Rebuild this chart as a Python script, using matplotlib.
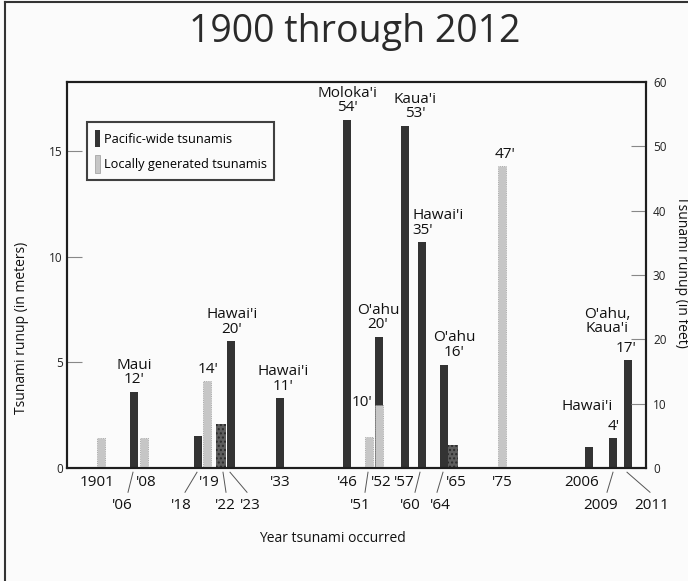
import matplotlib
matplotlib.use('Agg')
import matplotlib.pyplot as plt
from matplotlib.patches import Patch
from matplotlib.lines import Line2D

plt.rcParams['font.family'] = ['Open Sans', 'DejaVu Sans']

# ---------------- data ----------------
pacific_years = [1906, 1918, 1922, 1923, 1933, 1946, 1952, 1957, 1960, 1964, 1965, 2006, 2009, 2011]
pacific_m = [3.6, 1.5, 2.1, 6.0, 3.3, 16.5, 6.2, 16.2, 10.7, 4.9, 1.1, 1.0, 1.4, 5.1]
textured_years = [1922, 1965]
local_years = [1901, 1908, 1919, 1951, 1952, 1975]
local_m = [1.4, 1.4, 4.1, 1.45, 3.0, 14.3]

meter_ticks = [0, 5, 10, 15]
feet_ticks = [0, 10, 20, 30, 40, 50, 60]

# bar labels: (year, text)
bar_labels = [
    (1906, "Maui\n12'"), (1919, "14'"), (1923, "Hawai'i\n20'"), (1933, "Hawai'i\n11'"),
    (1946, "Moloka'i\n54'"), (1952, "O'ahu\n20'"), (1957, "Kaua'i\n53'"),
    (1960, "Hawai'i\n35'"), (1964, "O'ahu\n16'"), (1975, "47'"), (2009, "4'"),
    (2011, "17'"),
]

row1_labels = ["1901", "'08", "'19", "'33", "'46", "'52", "'57", "'65", "'75", "2006"]
row2_labels = ["'06", "'18", "'22", "'23", "'51", "'60", "'64", "2009", "2011"]

# ---------------- layout (pixel offsets from axis left) ----------------
slot = {1901: 34, 1906: 67, 1908: 77, 1918: 131, 1919: 140, 1922: 154, 1923: 164,
        1933: 213, 1946: 280, 1951: 302, 1952: 312, 1957: 338, 1960: 355,
        1964: 377, 1965: 386, 1975: 435, 2006: 522, 2009: 546, 2011: 561}
row1_x = [30, 79, 142, 213, 280, 314, 337, 389, 435, 515]
row2_x = [55, 114, 158, 183, 293, 343, 373, 534, 585]
# leader lines for row 2 labels: (bar x, end x)
leaders = [(66, 61), (130, 118), (156, 159), (163, 180), (301, 298), (353, 348),
           (376, 370), (546, 540), (560, 583)]
label_pos = {1906: (67, 'center'), 1919: (141, 'center'), 1923: (165, 'center'),
             1933: (216, 'center'), 1946: (280, 'center'), 1952: (311, 'center'),
             1957: (348, 'center'), 1960: (345, 'left'), 1964: (387, 'center'),
             1975: (438, 'center'), 2009: (547, 'center'), 2011: (559, 'center')}

W, H = 688, 581
bg = '#fbfbfb'
fig = plt.figure(figsize=(W / 100, H / 100), dpi=100)
fig.patch.set_facecolor(bg)
ax = fig.add_axes([67 / W, 1 - 468 / H, (646 - 67) / W, (468 - 82) / H])
ax.set_facecolor(bg)

dark = '#333333'
light = '#c6c6c6'
mid = '#5e5e5e'
bw = 8

for y, h in zip(pacific_years, pacific_m):
    if y in textured_years:
        ax.bar(slot[y], h, width=bw + 2, color=mid, edgecolor='#2a2a2a', hatch='....',
               linewidth=0, zorder=2)
    else:
        ax.bar(slot[y], h, width=bw, color=dark, linewidth=0, zorder=2)
for y, h in zip(local_years, local_m):
    ax.bar(slot[y], h, width=bw, color=light, edgecolor='#9a9a9a', linewidth=0.6,
           linestyle=':', zorder=3)

ft = 0.3048
ax.set_xlim(0, 579)
ax.set_ylim(0, 60 * ft)
ax.set_xticks([])
ax.set_yticks(meter_ticks)
ax.set_yticklabels([str(t) for t in meter_ticks], fontsize=8.5, color='#222')
ax.tick_params(axis='y', direction='in', length=11, width=0.8, color='#888', pad=3)
for s in ax.spines.values():
    s.set_linewidth(1.5)
    s.set_color('#1e1e1e')

ax2 = ax.twinx()
ax2.set_ylim(0, 60)
ax2.set_yticks(feet_ticks)
ax2.set_yticklabels([str(t) for t in feet_ticks], fontsize=8.5, color='#222')
ax2.tick_params(axis='y', direction='in', length=11, width=0.8, color='#888', pad=5)
for s in ax2.spines.values():
    s.set_linewidth(1.5)
    s.set_color('#1e1e1e')

# bar labels
heights = dict(zip(pacific_years, pacific_m))
heights.update({y: h for y, h in zip(local_years, local_m) if y not in heights})
lfs = 11
for y, txt in bar_labels:
    x, ha = label_pos[y]
    ax.text(x, heights[y] + 0.22, txt, ha=ha, va='bottom', fontsize=lfs,
            linespacing=0.95, color='#111', zorder=5)
ax.text(295, 3.1, "10'", ha='center', va='center', fontsize=lfs, color='#111', zorder=5)
ax.text(520, 2.9, "Hawai'i", ha='center', va='center', fontsize=lfs, color='#111', zorder=5)
ax.text(540, 6.25, "O'ahu,\nKaua'i", ha='center', va='bottom', fontsize=lfs,
        linespacing=0.9, color='#111', zorder=5)

# x labels (two rows)
for t, x in zip(row1_labels, row1_x):
    ax.text(x, -0.71, t, ha='center', va='center', fontsize=lfs, color='#111', clip_on=False)
for t, x in zip(row2_labels, row2_x):
    ax.text(x, -1.76, t, ha='center', va='center', fontsize=lfs, color='#111', clip_on=False)
for x0, x1 in leaders:
    ax.plot([x0, x1], [-0.2, -1.15], color='#555', lw=0.7, clip_on=False)

# legend
handles = [Patch(facecolor=dark, edgecolor='none', label='Pacific-wide tsunamis'),
           Patch(facecolor=light, edgecolor='#9a9a9a', linewidth=0.5, label='Locally generated tsunamis')]
leg = ax.legend(handles=handles, loc='upper left', bbox_to_anchor=(0.0345, 0.896),
                borderaxespad=0, fontsize=9.2, handlelength=0.4, handleheight=1.75,
                handletextpad=0.3, labelspacing=0.6, fancybox=False, frameon=True,
                borderpad=0.6)
leg.get_frame().set_edgecolor('#111')
leg.get_frame().set_linewidth(1.5)
leg.get_frame().set_facecolor(bg)
leg.set_zorder(6)

# axis titles
fig.text(332 / W, 1 - 539 / H, 'Year tsunami occurred', ha='center', va='center',
         fontsize=10, color='#111')
fig.text(22 / W, 1 - 328 / H, 'Tsunami runup (in meters)', ha='center', va='center',
         rotation=90, fontsize=10, color='#111')
fig.text(681 / W, 1 - 272 / H, 'Tsunami runup (in feet)', ha='center', va='center',
         rotation=-90, fontsize=10, color='#111')
fig.text(355 / W, 1 - 32 / H, '1900 through 2012', ha='center', va='center',
         fontsize=27, color='#2a2a2a')

# figure frame (left and top)
fig.add_artist(Line2D([5 / W, 5 / W], [0, 1 - 2 / H], color='#333', lw=1.5))
fig.add_artist(Line2D([5 / W, 1], [1 - 2 / H, 1 - 2 / H], color='#333', lw=1.5))

fig.savefig('out.png', dpi=100, facecolor=fig.get_facecolor())
